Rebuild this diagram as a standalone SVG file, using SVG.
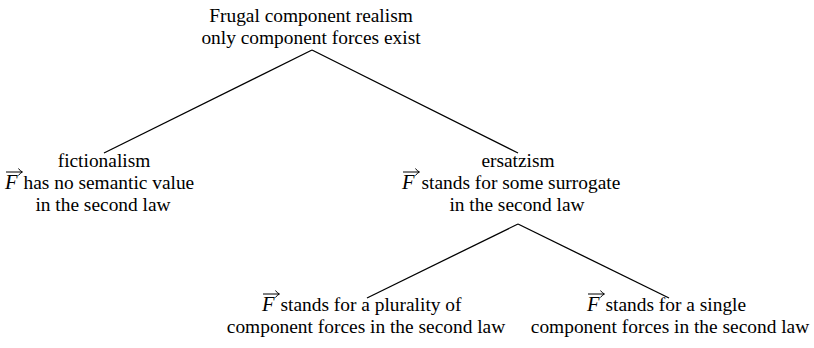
<svg xmlns="http://www.w3.org/2000/svg" xmlns:xlink="http://www.w3.org/1999/xlink" width="814" height="348" viewBox="0 0 814 348">
  <style>
    text { font-family: "Liberation Serif", "Times New Roman", serif; font-size: 19.4px; fill: #000; }
    .c { text-anchor: middle; }
    .s { text-anchor: start; }
    .it { font-style: italic; font-size: 20.5px; }
    .edge { stroke: #000; stroke-width: 1.3; fill: none; }
    .vec { stroke: #000; stroke-width: 1; fill: none; }
  </style>
  <defs>
    <g id="vec">
      <path class="vec" d="M0,0 H16 M12.5,-3.5 Q14,-1 16.5,0 Q14,1 12.5,3.5"/>
    </g>
  </defs>
  <rect width="814" height="348" fill="#fff"/>
  <g id="connectors">
    <line class="edge" x1="312" y1="50" x2="104" y2="153"/>
    <line class="edge" x1="312" y1="50" x2="518" y2="153"/>
    <line class="edge" x1="518" y1="224" x2="367" y2="298"/>
    <line class="edge" x1="518" y1="224" x2="669" y2="298"/>
  </g>
  <g id="root">
    <text class="c" x="311" y="22">Frugal component realism</text>
    <text class="c" x="311" y="44">only component forces exist</text>
  </g>
  <g id="fictionalism">
    <text class="c" x="104" y="167">fictionalism</text>
    <text class="s" x="5" y="189"><tspan class="it">F</tspan><tspan dx="6">has no semantic value</tspan></text>
    <use xlink:href="#vec" x="6" y="172"/>
    <text class="c" x="103" y="211">in the second law</text>
  </g>
  <g id="ersatzism">
    <text class="c" x="518" y="167">ersatzism</text>
    <text class="s" x="402" y="189"><tspan class="it">F</tspan><tspan dx="7">stands for some surrogate</tspan></text>
    <use xlink:href="#vec" x="403" y="172"/>
    <text class="c" x="517" y="211">in the second law</text>
  </g>
  <g id="plurality">
    <text class="s" x="262" y="311"><tspan class="it">F</tspan><tspan dx="6">stands for a plurality of</tspan></text>
    <use xlink:href="#vec" x="263" y="294"/>
    <text class="c" x="366" y="333">component forces in the second law</text>
  </g>
  <g id="single">
    <text class="s" x="587" y="311"><tspan class="it">F</tspan><tspan dx="6">stands for a single</tspan></text>
    <use xlink:href="#vec" x="588" y="294"/>
    <text class="c" x="670" y="333">component forces in the second law</text>
  </g>
</svg>
